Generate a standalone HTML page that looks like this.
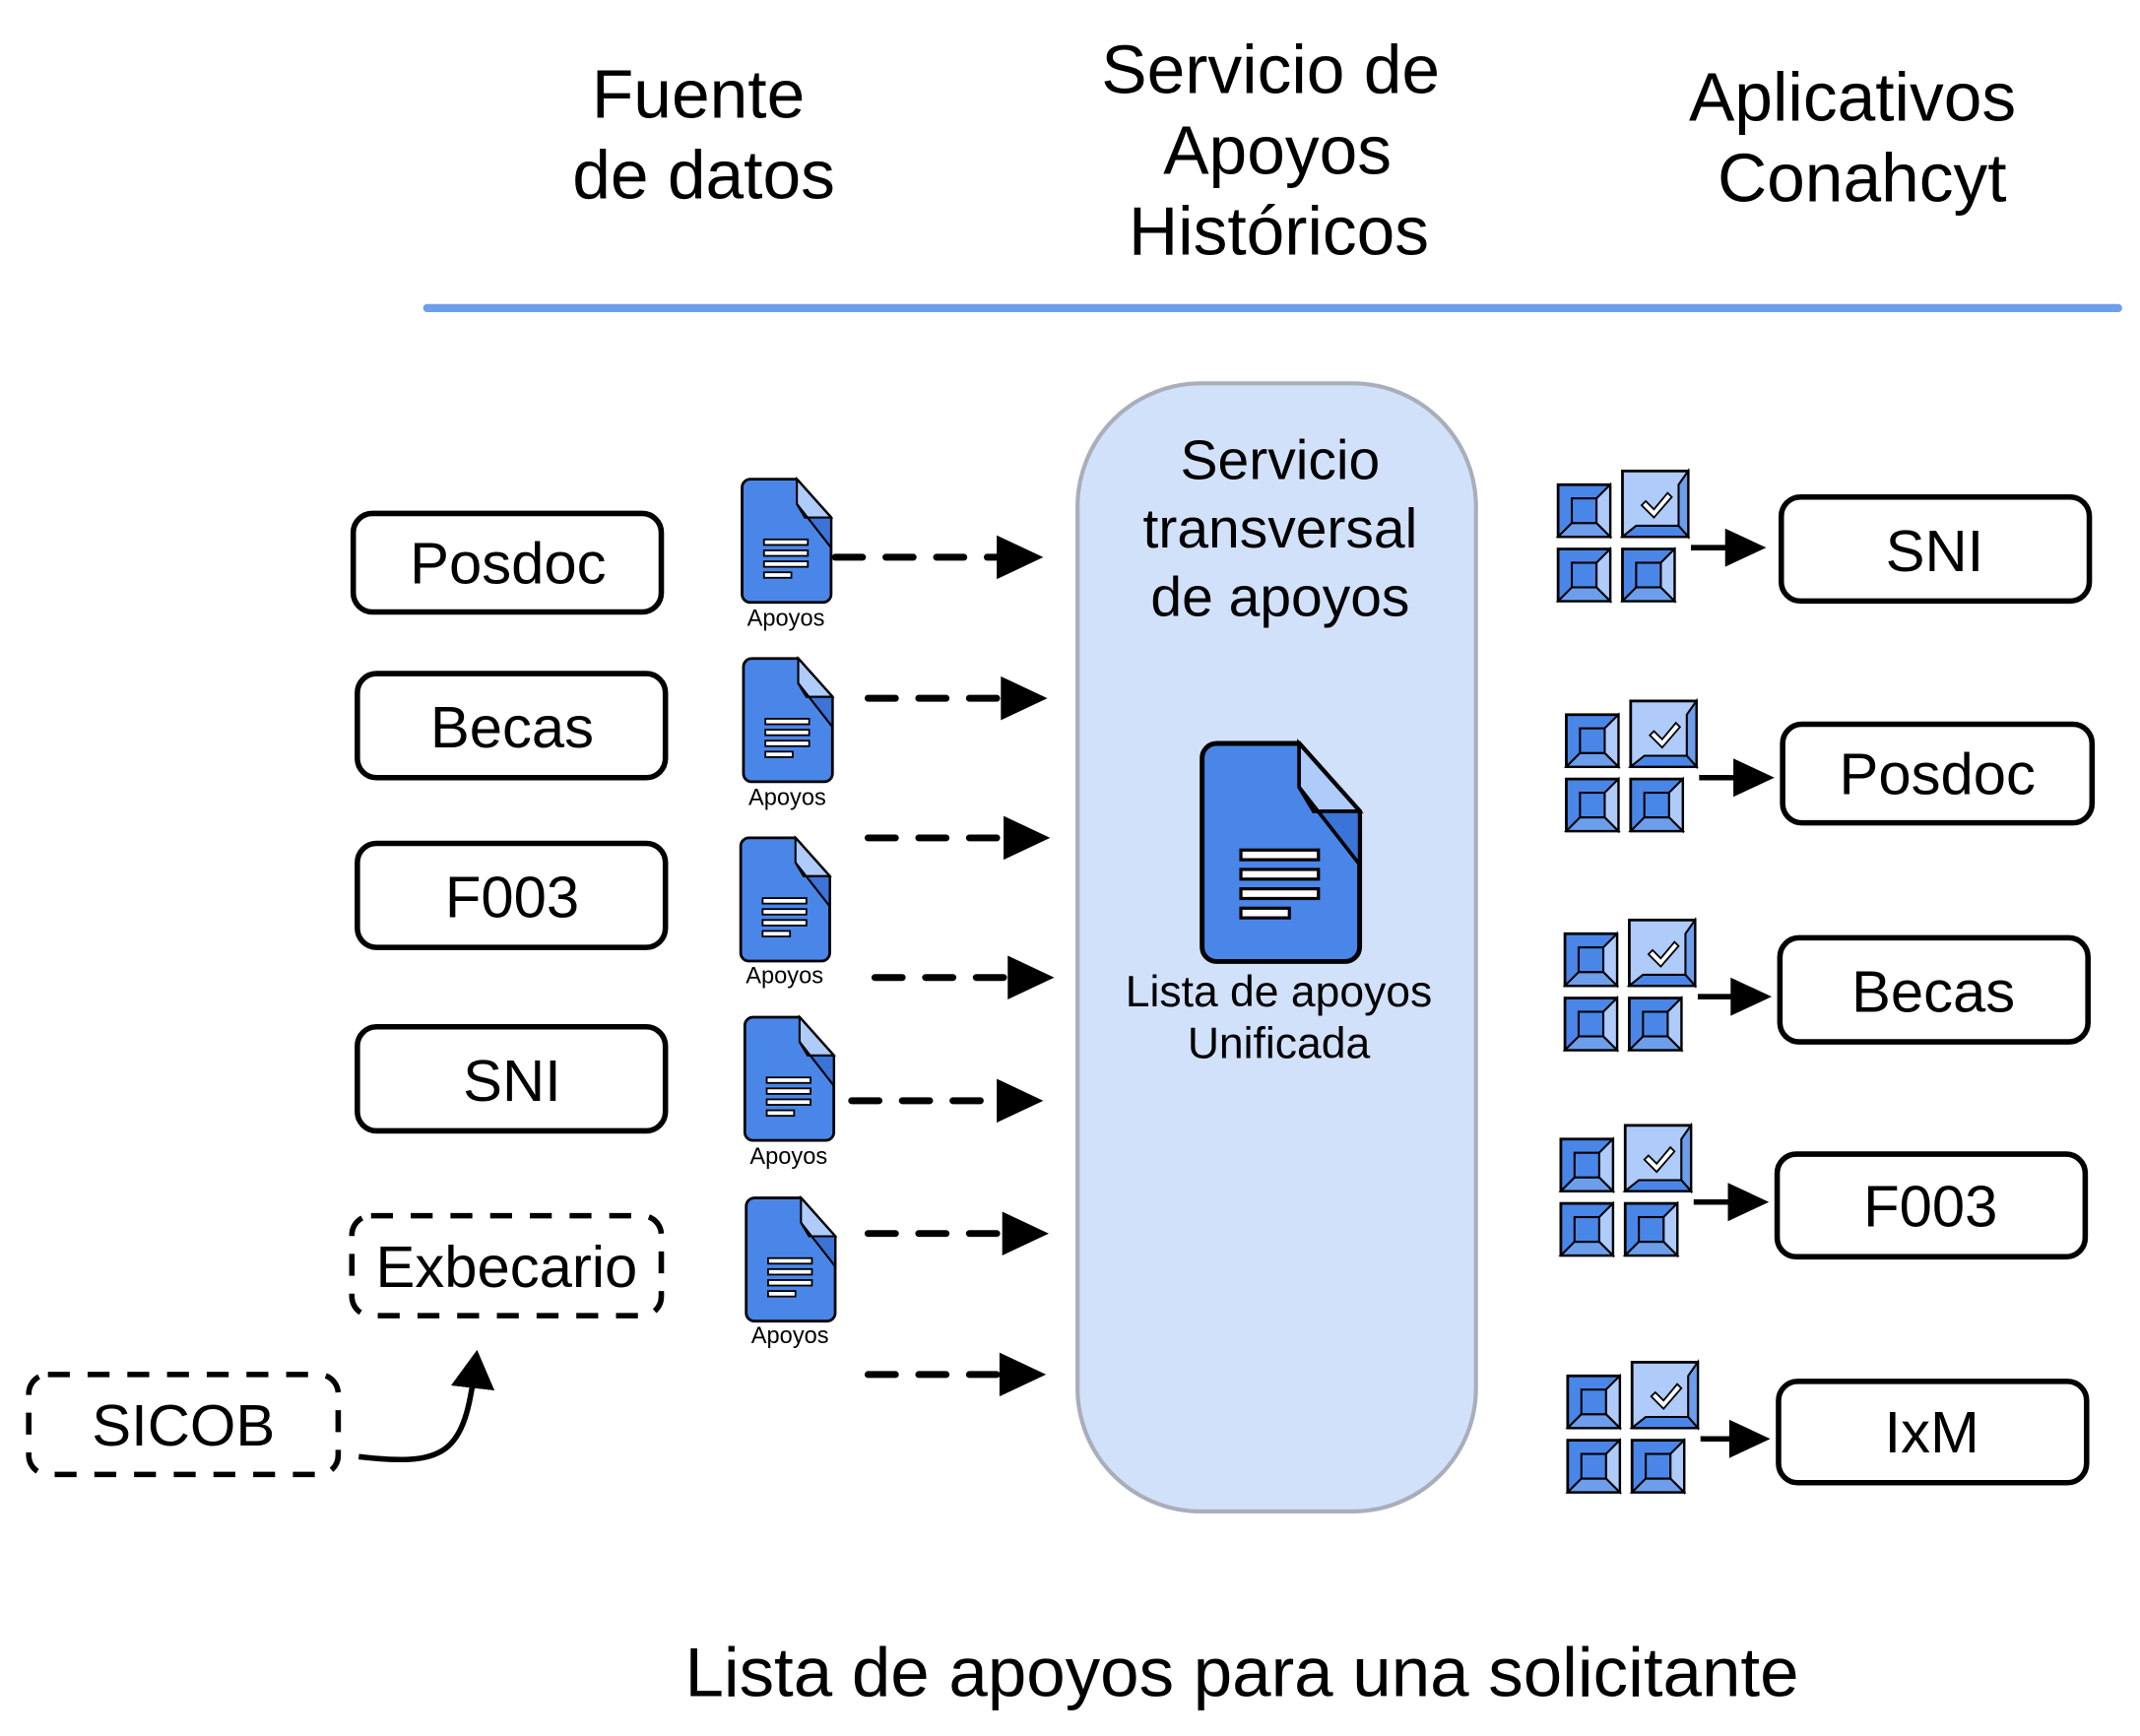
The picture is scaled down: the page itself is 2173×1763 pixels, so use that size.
<!DOCTYPE html>
<html><head><meta charset="utf-8"><style>
html,body{margin:0;padding:0;background:#fff}
svg{display:block}
text{font-family:"Liberation Sans",sans-serif;fill:#000}
</style></head><body>
<svg width="2173" height="1763" viewBox="0 0 1563 1268" xmlns="http://www.w3.org/2000/svg">
<defs>
<g id="doc">
<path d="M6 0H40L65 28V84a6 6 0 0 1-6 6H6a6 6 0 0 1-6-6V6a6 6 0 0 1 6-6Z" fill="#4a86e8" stroke="#000" stroke-width="2"/>
<path d="M40 0L65 28H46L40 18Z" fill="#aecbfa" stroke="#000" stroke-width="1.5"/>
<path d="M40 18L46 28H65V50Z" fill="#3b73d6" stroke="#000" stroke-width="1.5"/>
<g fill="#fff" stroke="#000" stroke-width="1.3">
<rect x="16" y="44" width="32" height="4"/><rect x="16" y="52" width="32" height="4"/><rect x="16" y="60" width="32" height="4"/><rect x="16" y="68" width="20" height="4"/>
</g>
</g>
<g id="sq">
<rect x="0" y="0" width="38" height="38" fill="#4a86e8" stroke="#000" stroke-width="2"/>
<path d="M38 0L28 10V28L38 38Z" fill="#aecbfa" stroke="#000" stroke-width="1.5"/>
<path d="M0 38L10 28H28L38 38Z" fill="#6d9eeb" stroke="#000" stroke-width="1.5"/>
<rect x="10" y="10" width="18" height="18" fill="#4a86e8" stroke="#000" stroke-width="1.5"/>
</g>
<g id="grp">
<use href="#sq" x="0" y="10"/>
<rect x="47" y="0" width="48" height="48" fill="#aecbfa" stroke="#000" stroke-width="2"/>
<path d="M95 0L88 10V40L95 48Z" fill="#6d9eeb" stroke="#000" stroke-width="1.5"/>
<path d="M47 48L57 40H88L95 48Z" fill="#4a86e8" stroke="#000" stroke-width="1.5"/>
<path d="M64 22L70 28L80 16L83 19L70 34L61 25Z" fill="#fff" stroke="#000" stroke-width="1.3"/>
<use href="#sq" x="0" y="57"/>
<use href="#sq" x="47" y="57"/>
</g>
<marker id="ah" markerWidth="8" markerHeight="8" refX="6" refY="4" orient="auto" markerUnits="strokeWidth">
<path d="M0 0L7 4L0 8Z" fill="#000"/>
</marker>
</defs>

<g font-size="50" text-anchor="middle">
<text x="510" y="86">Fuente</text><text x="514" y="145">de datos</text>
<text x="928" y="68">Servicio de</text><text x="933" y="127">Apoyos</text><text x="934" y="186">Históricos</text>
<text x="1353" y="88">Aplicativos</text><text x="1360" y="147">Conahcyt</text>
</g>
<line x1="312" y1="225" x2="1547" y2="225" stroke="#6d9eeb" stroke-width="6" stroke-linecap="round"/>

<rect x="787" y="280" width="291" height="824" rx="90" fill="#d2e1fa" stroke="#a9aebb" stroke-width="3"/>
<g font-size="41" text-anchor="middle">
<text x="935" y="350">Servicio</text><text x="935" y="400">transversal</text><text x="935" y="450">de apoyos</text>
</g>
<use href="#doc" transform="translate(878,543) scale(1.77)"/>
<g font-size="32" text-anchor="middle">
<text x="934" y="735">Lista de apoyos</text><text x="934" y="773">Unificada</text>
</g>

<g fill="#fff" stroke="#000" stroke-width="4">
<rect x="258" y="375" width="225" height="72" rx="14"/>
<rect x="261" y="492" width="225" height="76" rx="14"/>
<rect x="261" y="616" width="225" height="76" rx="14"/>
<rect x="261" y="750" width="225" height="76" rx="14"/>
<rect x="257" y="888" width="226" height="73" rx="14" stroke-dasharray="16 13"/>
<rect x="21" y="1004" width="226" height="73" rx="14" stroke-dasharray="16 13"/>
</g>
<g font-size="43" text-anchor="middle">
<text x="371" y="426">Posdoc</text>
<text x="374" y="546">Becas</text>
<text x="374" y="670">F003</text>
<text x="374" y="804">SNI</text>
<text x="370" y="940">Exbecario</text>
<text x="134" y="1056">SICOB</text>
</g>
<path d="M262 1064C330 1072 340 1060 348 990" fill="none" stroke="#000" stroke-width="4" marker-end="url(#ah)"/>

<use href="#doc" x="542" y="350"/>
<use href="#doc" x="543" y="481"/>
<use href="#doc" x="541" y="612"/>
<use href="#doc" x="544" y="743"/>
<use href="#doc" x="545" y="875"/>
<g font-size="17" text-anchor="middle">
<text x="574" y="457">Apoyos</text>
<text x="575" y="588">Apoyos</text>
<text x="573" y="718">Apoyos</text>
<text x="576" y="850">Apoyos</text>
<text x="577" y="981">Apoyos</text>
</g>

<g stroke="#000" stroke-width="5" stroke-dasharray="20 17" stroke-linecap="round" fill="none">
<line x1="610" y1="407" x2="735" y2="407"/>
<line x1="634" y1="510" x2="738" y2="510"/>
<line x1="634" y1="612" x2="740" y2="612"/>
<line x1="639" y1="714" x2="743" y2="714"/>
<line x1="622" y1="804" x2="735" y2="804"/>
<line x1="634" y1="901" x2="739" y2="901"/>
<line x1="634" y1="1004" x2="737" y2="1004"/>
</g>
<g fill="#000">
<path d="M728 391L762 407L728 423Z"/>
<path d="M731 494L765 510L731 526Z"/>
<path d="M733 596L767 612L733 628Z"/>
<path d="M736 698L770 714L736 730Z"/>
<path d="M728 788L762 804L728 820Z"/>
<path d="M732 885L766 901L732 917Z"/>
<path d="M730 988L764 1004L730 1020Z"/>
</g>

<use href="#grp" x="1138" y="344"/>
<use href="#grp" x="1144" y="512"/>
<use href="#grp" x="1143" y="672"/>
<use href="#grp" x="1140" y="822"/>
<use href="#grp" x="1145" y="995"/>
<g stroke="#000" stroke-width="4">
<line x1="1235" y1="400" x2="1265" y2="400"/>
<line x1="1241" y1="568" x2="1271" y2="568"/>
<line x1="1240" y1="728" x2="1268" y2="728"/>
<line x1="1237" y1="878" x2="1266" y2="878"/>
<line x1="1242" y1="1051" x2="1268" y2="1051"/>
</g>
<g fill="#000">
<path d="M1260 386L1290 400L1260 414Z"/>
<path d="M1266 554L1296 568L1266 582Z"/>
<path d="M1264 714L1294 728L1264 742Z"/>
<path d="M1262 864L1292 878L1262 892Z"/>
<path d="M1263 1037L1293 1051L1263 1065Z"/>
</g>
<g fill="#fff" stroke="#000" stroke-width="4">
<rect x="1301" y="363" width="225" height="76" rx="14"/>
<rect x="1302" y="529" width="226" height="72" rx="14"/>
<rect x="1300" y="685" width="225" height="76" rx="14"/>
<rect x="1298" y="843" width="225" height="75" rx="14"/>
<rect x="1299" y="1009" width="225" height="74" rx="14"/>
</g>
<g font-size="43" text-anchor="middle">
<text x="1413" y="417">SNI</text>
<text x="1415" y="580">Posdoc</text>
<text x="1412" y="739">Becas</text>
<text x="1410" y="896">F003</text>
<text x="1411" y="1061">IxM</text>
</g>

<text x="907" y="1239" font-size="51" text-anchor="middle">Lista de apoyos para una solicitante</text>
</svg>
</body></html>
